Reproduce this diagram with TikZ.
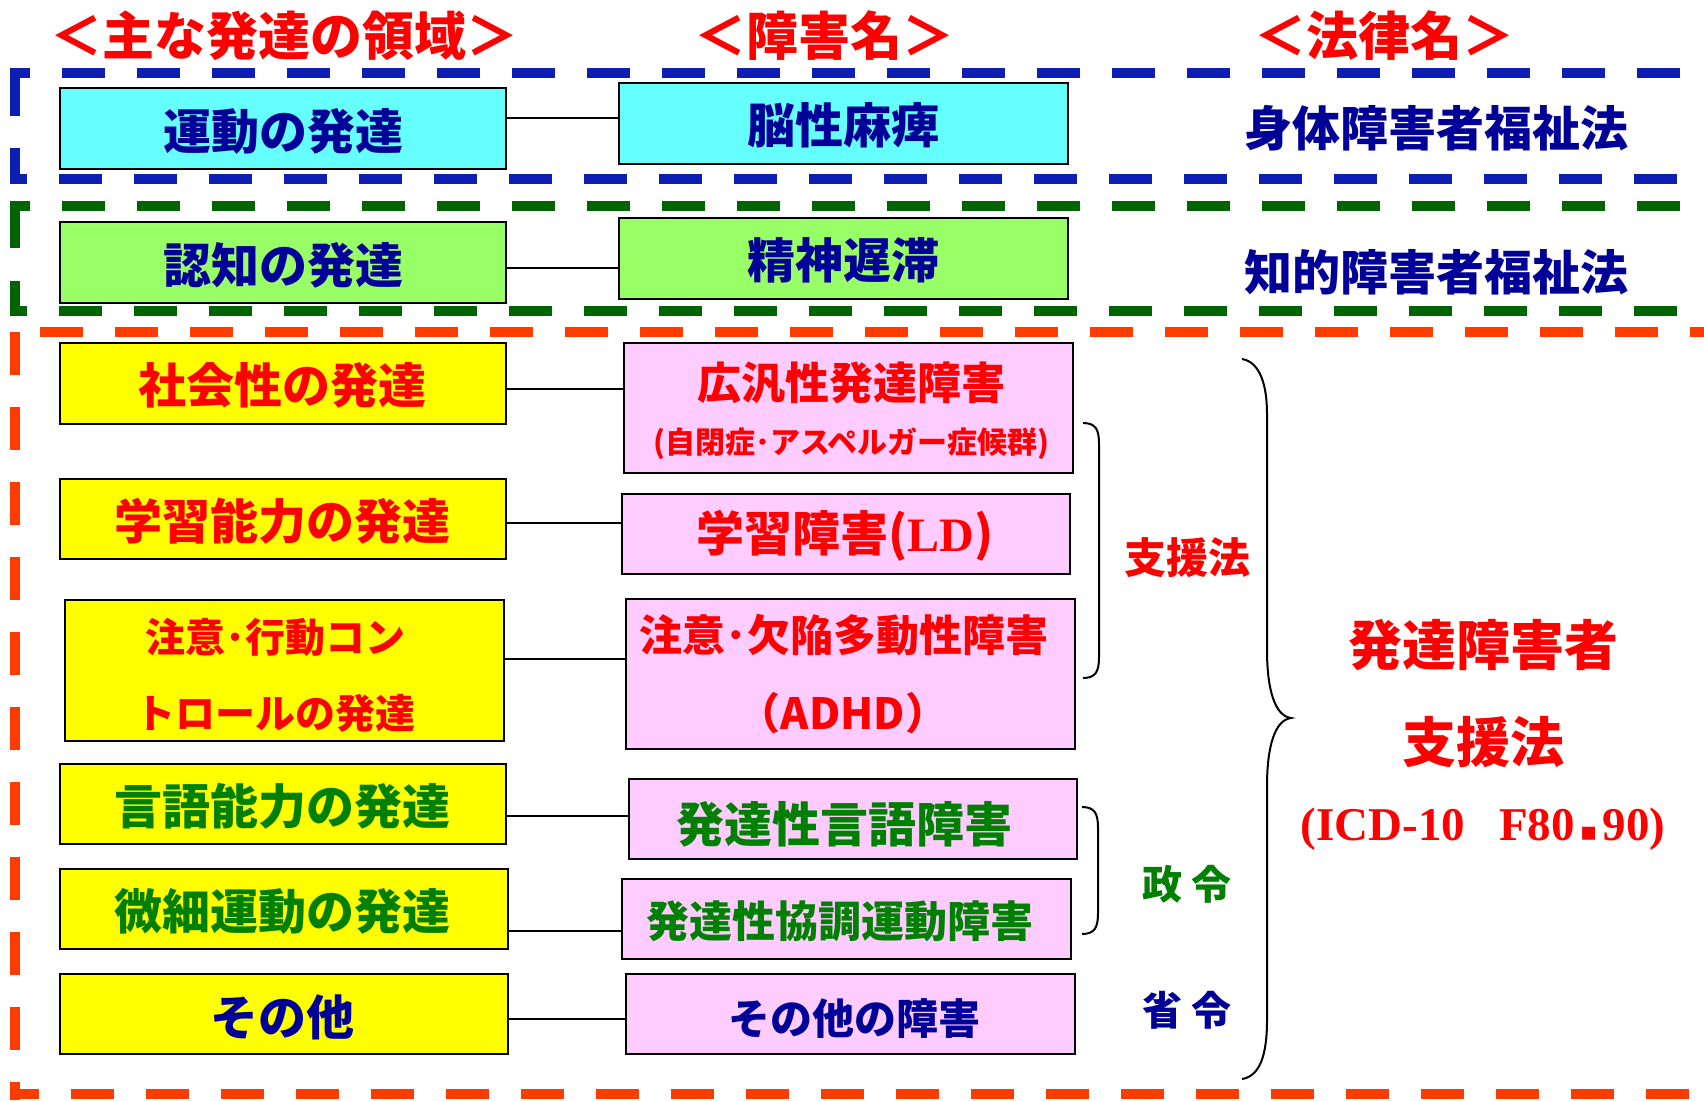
\documentclass[tikz,border=0pt]{standalone}
\usepackage{fontspec}
\setmainfont{Noto Sans CJK JP}
\newfontfamily\serf{Liberation Serif}
\newfontfamily\djv{DejaVu Sans}
\definecolor{bluedash}{RGB}{12,30,180}
\definecolor{greendash}{RGB}{0,100,0}
\definecolor{orangedash}{RGB}{255,60,0}
\definecolor{cyanbox}{RGB}{102,255,255}
\definecolor{greenbox}{RGB}{153,255,102}
\definecolor{yellowbox}{RGB}{255,255,0}
\definecolor{pinkbox}{RGB}{255,204,255}
\definecolor{redtxt}{RGB}{255,0,0}
\definecolor{navytxt}{RGB}{0,0,153}
\definecolor{greentxt}{RGB}{0,128,0}
\newcommand\myfs[1]{\fontsize{#1}{#1}\selectfont}
\begin{document}
\begin{tikzpicture}[x=1pt,y=-1pt,
  box/.style={draw=black,line width=2.5pt,inner sep=0pt},
  lbl/.style={inner sep=0pt,anchor=center},
  conn/.style={line width=2pt,black},
  brc/.style={line width=2pt,black},
  dsh/.style={line width=10pt,dash pattern=on 43pt off 32pt}]
\useasboundingbox (0,0) rectangle (1704,1100);
\fill[white] (0,0) rectangle (1704,1100);
\clip (0,0) rectangle (1704,1100);

% dashed frames
\draw[dsh,bluedash,dash phase=28pt] (15,73) -- (1720,73);
\draw[dsh,bluedash,dash phase=31pt] (15,179) -- (1720,179);
\draw[bluedash,line width=10pt,dash pattern=on 48pt off 32pt on 300pt off 10pt] (15,68) -- (15,184);
\draw[dsh,greendash,dash phase=28pt] (15,206) -- (1720,206);
\draw[dsh,greendash,dash phase=31pt] (15,311) -- (1720,311);
\draw[greendash,line width=10pt,dash pattern=on 47pt off 33pt on 300pt off 10pt] (15,201) -- (15,316);
\draw[dsh,orangedash,dash phase=50pt] (15,332) -- (1720,332);
\draw[dsh,orangedash,dash phase=19pt] (15,1094) -- (1720,1094);
\draw[dsh,orangedash] (15,332) -- (15,1100);

% headers
\node[lbl,text=redtxt,font=\bfseries\myfs{52}] (h1) at (284,36) {＜主な発達の領域＞};
\node[lbl,text=redtxt,font=\bfseries\myfs{52}] (h2) at (824,36) {＜障害名＞};
\node[lbl,text=redtxt,font=\bfseries\myfs{52}] (h3) at (1384,36) {＜法律名＞};

% left boxes
\node[box,fill=cyanbox,minimum width=446pt,minimum height=81pt] (L1) at (283,128.5) {};
\node[box,fill=greenbox,minimum width=446pt,minimum height=81pt] (L2) at (283,262.5) {};
\node[box,fill=yellowbox,minimum width=446pt,minimum height=81pt] (L3) at (283,383.5) {};
\node[box,fill=yellowbox,minimum width=446pt,minimum height=80pt] (L4) at (283,519) {};
\node[box,fill=yellowbox,minimum width=439pt,minimum height=141pt] (L5) at (284.5,670.5) {};
\node[box,fill=yellowbox,minimum width=446pt,minimum height=80pt] (L6) at (283,804) {};
\node[box,fill=yellowbox,minimum width=448pt,minimum height=80pt] (L7) at (284,909) {};
\node[box,fill=yellowbox,minimum width=448pt,minimum height=80pt] (L8) at (284,1014) {};

% right boxes
\node[box,fill=cyanbox,minimum width=449pt,minimum height=81pt] (R1) at (843.5,123.5) {};
\node[box,fill=greenbox,minimum width=449pt,minimum height=81pt] (R2) at (843.5,258.5) {};
\node[box,fill=pinkbox,minimum width=449pt,minimum height=130pt] (R3) at (848.5,408) {};
\node[box,fill=pinkbox,minimum width=448pt,minimum height=80pt] (R4) at (846,534) {};
\node[box,fill=pinkbox,minimum width=449pt,minimum height=150pt] (R5) at (850.5,674) {};
\node[box,fill=pinkbox,minimum width=448pt,minimum height=80pt] (R6) at (853,819) {};
\node[box,fill=pinkbox,minimum width=449pt,minimum height=80pt] (R7) at (846.5,919) {};
\node[box,fill=pinkbox,minimum width=449pt,minimum height=80pt] (R8) at (850.5,1014) {};

% connectors
\coordinate (y1) at (0,118);
\coordinate (y2) at (0,268);
\coordinate (y3) at (0,389);
\coordinate (y4) at (0,523);
\coordinate (y5) at (0,659);
\coordinate (y6) at (0,816);
\coordinate (y7) at (0,931);
\coordinate (y8) at (0,1019);
\draw[conn] (L1.east |- y1) -- (R1.west |- y1);
\draw[conn] (L2.east |- y2) -- (R2.west |- y2);
\draw[conn] (L3.east |- y3) -- (R3.west |- y3);
\draw[conn] (L4.east |- y4) -- (R4.west |- y4);
\draw[conn] (L5.east |- y5) -- (R5.west |- y5);
\draw[conn] (L6.east |- y6) -- (R6.west |- y6);
\draw[conn] (L7.east |- y7) -- (R7.west |- y7);
\draw[conn] (L8.east |- y8) -- (R8.west |- y8);

% left texts
\node[lbl,text=navytxt,font=\bfseries\myfs{48}] (tL1) at (283,131) {運動の発達};
\node[lbl,text=navytxt,font=\bfseries\myfs{48}] (tL2) at (283,265) {認知の発達};
\node[lbl,text=redtxt,font=\bfseries\myfs{48}] (tL3) at (282,385) {社会性の発達};
\node[lbl,text=redtxt,font=\bfseries\myfs{48}] (tL4) at (282,521) {学習能力の発達};
\node[lbl,text=redtxt,font=\bfseries\myfs{40}] (tL5a) at (275,637) {注意･行動コン};
\node[lbl,text=redtxt,font=\bfseries\myfs{40}] (tL5b) at (275,713) {トロールの発達};
\node[lbl,text=greentxt,font=\bfseries\myfs{48}] (tL6) at (282,806) {言語能力の発達};
\node[lbl,text=greentxt,font=\bfseries\myfs{48}] (tL7) at (282,911) {微細運動の発達};
\node[lbl,text=navytxt,font=\bfseries\myfs{48}] (tL8) at (282,1017) {その他};

% right texts
\node[lbl,text=navytxt,font=\bfseries\myfs{48}] (tR1) at (843,125) {脳性麻痺};
\node[lbl,text=navytxt,font=\bfseries\myfs{48}] (tR2) at (843,260) {精神遅滞};
\node[lbl,text=redtxt,font=\bfseries\myfs{44}] (tR3a) at (851,383) {広汎性発達障害};
\node[lbl,text=redtxt,font=\bfseries\myfs{30}] (tR3b) at (851,444) {(自閉症･アスペルガー症候群)};
\node[lbl,text=redtxt,font=\bfseries\myfs{48}] (tR4) at (845,536) {学習障害({\serf\bfseries LD})};
\node[lbl,text=redtxt,font=\bfseries\myfs{43}] (tR5a) at (844,635) {注意･欠陥多動性障害};
\node[lbl,text=redtxt,font=\bfseries\myfs{43}] (tR5b) at (843,713) {（ADHD）};
\node[lbl,text=greentxt,font=\bfseries\myfs{48}] (tR6) at (844,824) {発達性言語障害};
\node[lbl,text=greentxt,font=\bfseries\myfs{43}] (tR7) at (840,921) {発達性協調運動障害};
\node[lbl,text=navytxt,font=\bfseries\myfs{42}] (tR8) at (854,1019) {その他の障害};

% law names
\node[lbl,text=navytxt,font=\bfseries\myfs{48}] (law1) at (1436,128) {身体障害者福祉法};
\node[lbl,text=navytxt,font=\bfseries\myfs{48}] (law2) at (1436,272) {知的障害者福祉法};
\node[lbl,text=redtxt,font=\bfseries\myfs{42}] (sien) at (1187,558) {支援法};
\node[lbl,text=greentxt,font=\bfseries\myfs{40}] (seirei) at (1187,884) {政 令};
\node[lbl,text=navytxt,font=\bfseries\myfs{40}] (shorei) at (1187,1010) {省 令};
\node[lbl,text=redtxt,font=\bfseries\myfs{54}] (big1) at (1483,645) {発達障害者};
\node[lbl,text=redtxt,font=\bfseries\myfs{54}] (big2) at (1483,742) {支援法};
\node[lbl,text=redtxt,font=\serf\bfseries\myfs{47}] (icd) at (1483,829) {(ICD-10\hspace{34pt}F80\hspace{5pt}{\djv\bfseries\myfs{26}▪}\hspace{5pt}90)};

% braces
\draw[brc] (1083,423) .. controls (1096,423) and (1099,430) .. (1099,444) -- (1099,657) .. controls (1099,671) and (1096,678) .. (1083,678);
\draw[brc] (1082,807) .. controls (1095,807) and (1098,814) .. (1098,828) -- (1098,913) .. controls (1098,927) and (1095,934) .. (1082,934);
\draw[brc] (1242,359) .. controls (1260,362) and (1267,385) .. (1267,414) -- (1267,650) .. controls (1267,690) and (1275,716) .. (1291,718) .. controls (1275,720) and (1267,746) .. (1267,786) -- (1267,1020) .. controls (1267,1055) and (1260,1076) .. (1242,1079);
\end{tikzpicture}
\end{document}
